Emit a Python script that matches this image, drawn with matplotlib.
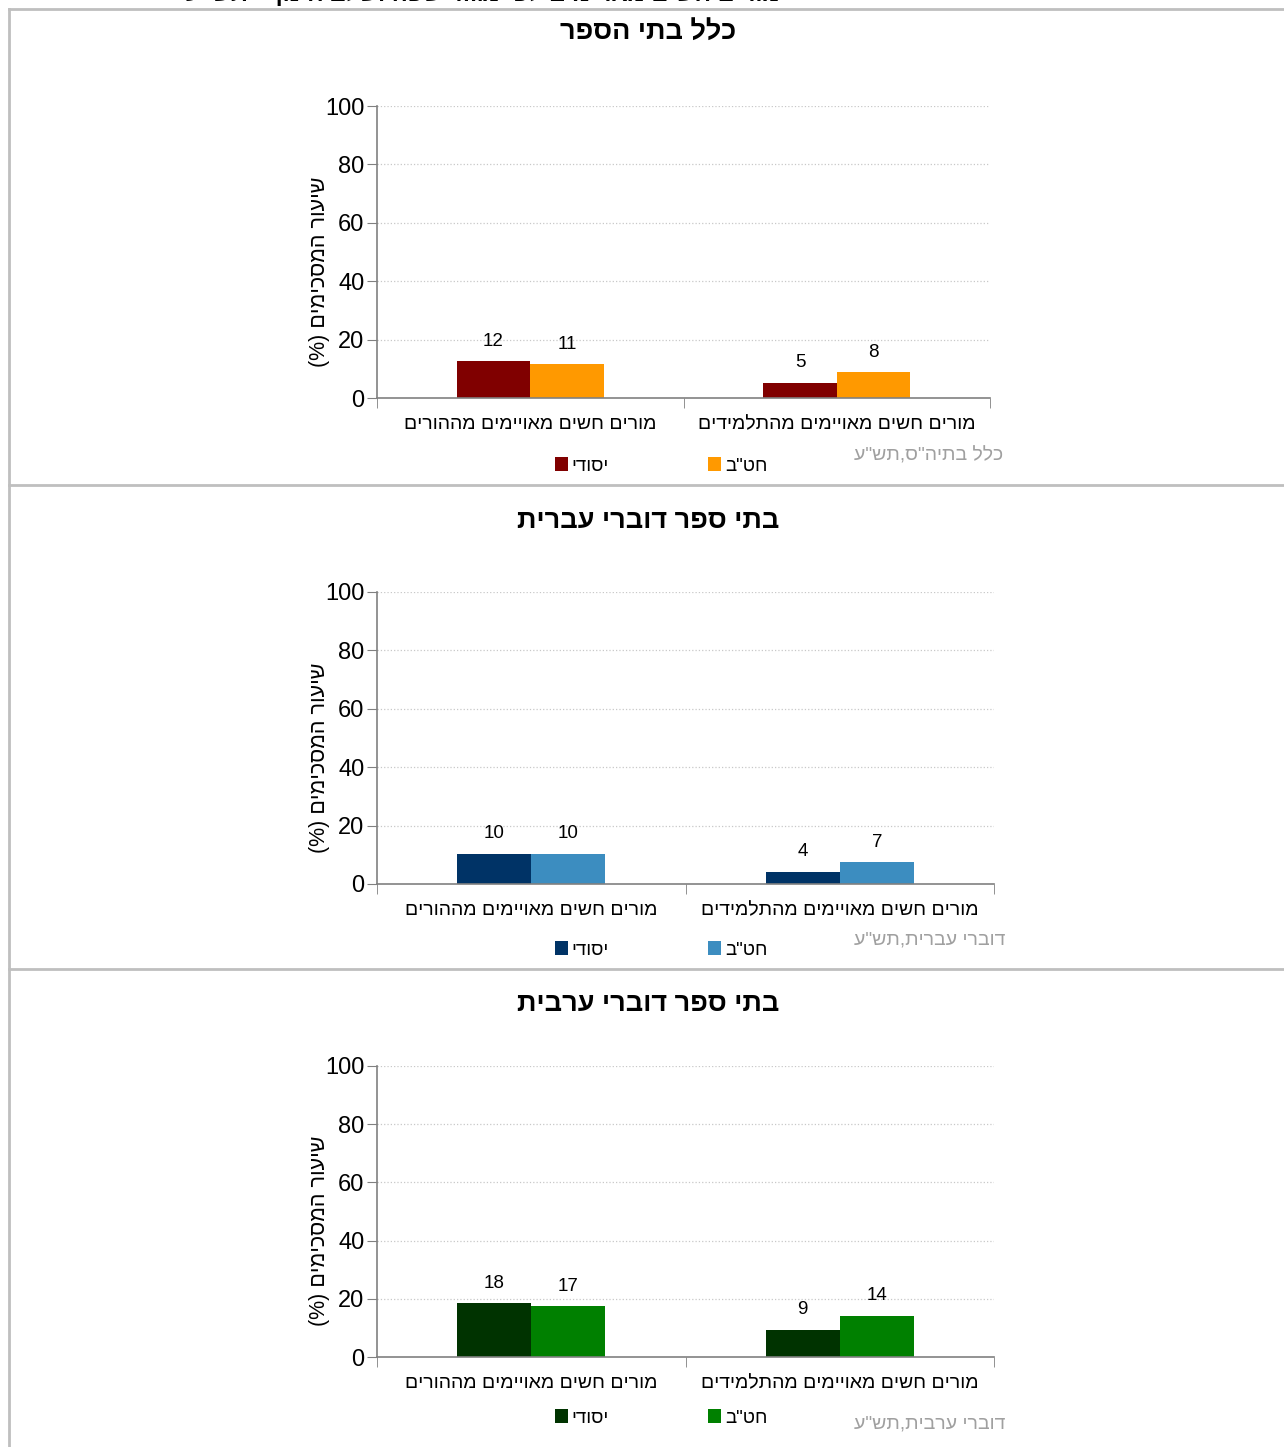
import matplotlib
matplotlib.use("Agg")
import matplotlib.pyplot as plt
from matplotlib.lines import Line2D
import numpy as np

plt.rcParams['font.family'] = ['Liberation Sans', 'DejaVu Sans']

# Hebrew strings are reversed for display (matplotlib has no bidi)
def rtl(s):
    return s[::-1].translate(str.maketrans('()', ')('))

W, H = 1284, 1447

categories = ['מורים חשים מאויימים מההורים', 'מורים חשים מאויימים מהתלמידים']
series_names = ['יסודי', 'חט"ב']
panel_titles = ['כלל בתי הספר', 'בתי ספר דוברי עברית', 'בתי ספר דוברי ערבית']
panel_sources = ['כלל בתיה"ס,תש"ע', 'דוברי עברית,תש"ע', 'דוברי ערבית,תש"ע']
ylabel = 'שיעור המסכימים (%)'
top_title = 'מורים חשים מאויימים לפי מגזר שפה ושלב חינוך - תש"ע'

# values per panel: [elementary, middle school] per category
all_yesodi = [12.6, 10.3, 18.5]
all_hatab = [11.5, 10.3, 17.4]
stud_yesodi = [5.3, 4.1, 9.3]
stud_hatab = [8.8, 7.4, 14.2]
label_yesodi = [[12, 5], [10, 4], [18, 9]]
label_hatab = [[11, 8], [10, 7], [17, 14]]

colors = [('#800000', '#FF9900'), ('#003366', '#3C8DC0'), ('#003300', '#008000')]

# pixel layout for each panel: axes left, right, y0, y100, title y, legend y, source y, source right
layout = [
    (377, 990, 398, 106, 32, 466, 456, 1003),
    (377, 994, 884, 592, 521, 950, 940, 1005),
    (377, 994, 1357, 1066, 1004, 1418, 1424, 1005),
]

fig = plt.figure(figsize=(W / 100, H / 100), dpi=100)

gray = '#BFBFBF'
# panel borders
for yb in [9, 485, 969]:
    fig.add_artist(Line2D([9 / W, 1], [1 - yb / H, 1 - yb / H], color=gray, lw=2))
fig.add_artist(Line2D([9 / W, 9 / W], [1 - 9 / H, 0], color=gray, lw=2))

# title of the page, cut off at the top edge as in the original
fig.text(780 / W, 1 + 7 / H, rtl(top_title), ha='right', va='center', fontsize=17, fontweight='bold')

x = np.arange(len(categories))
bw = 0.24
for i, (l, r, y0, y100, ty, ly, sy, sr) in enumerate(layout):
    ax = fig.add_axes([l / W, 1 - y0 / H, (r - l) / W, (y0 - y100) / H])
    c1, c2 = colors[i]
    v1 = [all_yesodi[i], stud_yesodi[i]]
    v2 = [all_hatab[i], stud_hatab[i]]
    b1 = ax.bar(x - bw / 2, v1, bw, color=c1, label=rtl(series_names[0]))
    b2 = ax.bar(x + bw / 2, v2, bw, color=c2, label=rtl(series_names[1]))
    for bars, labs in [(b1, label_yesodi[i]), (b2, label_hatab[i])]:
        for b, lab in zip(bars, labs):
            ax.annotate(str(lab), (b.get_x() + b.get_width() / 2, b.get_height()),
                        xytext=(0, 14.5), textcoords='offset points',
                        ha='center', va='center', fontsize=13.5)
    ax.set_xlim(-0.5, 1.5)
    ax.set_ylim(0, 100)
    ax.set_yticks(range(0, 101, 20))
    ax.set_xticks(x)
    ax.set_xticklabels([rtl(c) for c in categories], fontsize=14)
    ax.set_xticks([-0.5, 0.5, 1.5], minor=True)
    ax.tick_params(axis='x', which='major', length=0, pad=13)
    ax.tick_params(axis='x', which='minor', length=7, color='#808080', direction='out')
    ax.tick_params(axis='y', length=7, color='#808080', labelsize=17, pad=2)
    for yv in range(20, 101, 20):
        ax.axhline(yv, color='#C8C8C8', lw=0.9, ls=':', zorder=0)
    for s in ['top', 'right']:
        ax.spines[s].set_visible(False)
    for s in ['left', 'bottom']:
        ax.spines[s].set_color('#808080')
        ax.spines[s].set_linewidth(1.2)

    fig.text(648 / W, 1 - ty / H, rtl(panel_titles[i]), ha='center', va='center',
             fontsize=19.5, fontweight='bold')
    fig.text(320 / W, 1 - (y0 - 126) / H, rtl(ylabel), rotation=90, ha='center', va='center',
             fontsize=15.5)
    fig.text(sr / W, 1 - sy / H, rtl(panel_sources[i]), ha='right', va='center',
             fontsize=14, color='#A0A0A0')
    fig.legend(handles=[b1, b2], loc='center', bbox_to_anchor=(661 / W, 1 - ly / H),
               ncol=2, frameon=False, fontsize=13.5, handlelength=0.7, handleheight=0.7,
               handletextpad=0.2, columnspacing=5.3)

fig.savefig('out.png', dpi=100)
